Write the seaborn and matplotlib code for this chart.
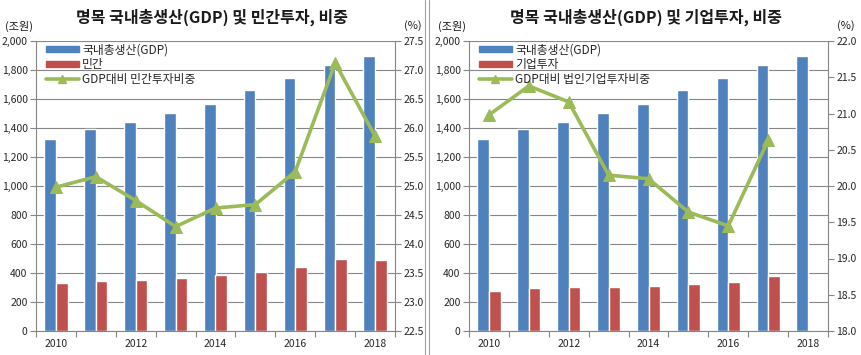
import numpy as np
import pandas as pd
import matplotlib
matplotlib.use("Agg")
import matplotlib.pyplot as plt
import seaborn as sns
from matplotlib.lines import Line2D
from matplotlib.patches import Patch

sns.set_theme(style="white")
plt.rcParams['font.family'] = ['Noto Sans CJK KR', 'DejaVu Sans']

years = ["2010", "2011", "2012", "2013", "2014", "2015", "2016", "2017", "2018"]
gdp = [1324, 1393, 1441, 1503, 1566, 1662, 1745, 1834, 1897]
private_inv = [331, 345, 352, 366, 386, 407, 441, 497, 490]
private_ratio = [24.98, 25.16, 24.75, 24.30, 24.62, 24.68, 25.25, 27.12, 25.86]
corp_inv = [276, 297, 303, 303, 310, 324, 338, 379, np.nan]
corp_ratio = [20.98, 21.38, 21.16, 20.15, 20.10, 19.64, 19.45, 20.63, np.nan]

titles = ["명목 국내총생산(GDP) 및 민간투자, 비중", "명목 국내총생산(GDP) 및 기업투자, 비중"]
bar_names = [("국내총생산(GDP)", "민간"), ("국내총생산(GDP)", "기업투자")]
line_names = ["GDP대비 민간투자비중", "GDP대비 법인기업투자비중"]
right_lims = [(22.5, 27.5), (18.0, 22.0)]
right_ticks = [np.arange(22.5, 27.51, 0.5), np.arange(18.0, 22.01, 0.5)]
left_ticks = np.arange(0, 2001, 200)

BLUE = "#4F81BD"
RED = "#C0504D"
GREEN = "#9BBB59"
GRID = "#868686"

W, H = 861, 355
fig = plt.figure(figsize=(W / 100, H / 100), dpi=100)

panels = [
    dict(left=36, right=395, inv=private_inv, ratio=private_ratio),
    dict(left=469, right=828, inv=corp_inv, ratio=corp_ratio),
]
top_px, bot_px = 41, 331

for i, p in enumerate(panels):
    ax = fig.add_axes([p["left"] / W, (H - bot_px) / H,
                       (p["right"] - p["left"]) / W, (bot_px - top_px) / H])
    df = pd.DataFrame({
        "year": years * 2,
        "series": [bar_names[i][0]] * len(years) + [bar_names[i][1]] * len(years),
        "value": list(gdp) + list(p["inv"]),
    })
    sns.barplot(data=df, x="year", y="value", hue="series", order=years,
                palette=[BLUE, RED], width=0.58, gap=0, dodge=True,
                saturation=1, ax=ax, legend=False, errorbar=None)
    ax.set_ylim(0, 2000)
    ax.set_xlim(-0.5, len(years) - 0.5)
    ax.set_yticks(left_ticks)
    ax.set_yticklabels([f"{v:,}" for v in left_ticks], fontsize=7.5)
    ax.yaxis.grid(True, color=GRID, linewidth=0.8)
    ax.set_axisbelow(True)
    ax.set_xlabel("")
    ax.set_ylabel("")
    # category boundaries as tick marks, labels every other year
    ax.set_xticks(np.arange(-0.5, len(years), 1.0))
    ax.set_xticklabels([])
    ax.set_xticks(np.arange(0, len(years), 2), minor=True)
    ax.set_xticklabels(years[::2], minor=True, fontsize=7.5)
    ax.tick_params(axis="x", which="major", direction="out", length=4,
                   color=GRID, width=0.8, bottom=True)
    ax.tick_params(axis="x", which="minor", length=0, pad=6, bottom=True)
    ax.tick_params(axis="y", direction="out", length=4, color=GRID,
                   width=0.8, left=True, pad=2)
    for s in ["top", "right"]:
        ax.spines[s].set_visible(False)
    for s in ["left", "bottom"]:
        ax.spines[s].set_color(GRID)
        ax.spines[s].set_linewidth(0.8)

    ax2 = ax.twinx()
    sns.lineplot(x=np.arange(len(years)), y=p["ratio"], ax=ax2, color=GREEN,
                 linewidth=2.6, marker="^", markersize=8, markeredgecolor=GREEN,
                 markerfacecolor=GREEN)
    ax2.set_xlim(-0.5, len(years) - 0.5)
    ax2.set_ylim(*right_lims[i])
    ax2.set_yticks(right_ticks[i])
    ax2.set_yticklabels([f"{v:.1f}" for v in right_ticks[i]], fontsize=7.5)
    ax2.tick_params(axis="y", direction="out", length=4, color=GRID,
                    width=0.8, right=True, pad=2)
    ax2.grid(False)
    ax2.set_ylabel("")
    for s in ["top", "left", "bottom"]:
        ax2.spines[s].set_visible(False)
    ax2.spines["right"].set_color(GRID)
    ax2.spines["right"].set_linewidth(0.8)

    handles = [
        Patch(facecolor=BLUE, edgecolor=BLUE),
        Patch(facecolor=RED, edgecolor=RED),
        Line2D([0], [0], color=GREEN, linewidth=2.6, marker="^", markersize=6),
    ]
    labels = [bar_names[i][0], bar_names[i][1], line_names[i]]
    ax2.legend(handles, labels, loc="upper left", bbox_to_anchor=(0.02, 1.0),
               frameon=False, fontsize=8.5, handlelength=2.8, handleheight=0.45,
               labelspacing=0.15, handletextpad=0.3, borderaxespad=0.0,
               borderpad=0.2)

    cx = (p["left"] + p["right"]) / 2
    fig.text((cx - 3) / W, 1 - 17 / H, titles[i], ha="center", va="center",
             fontsize=11.5, fontweight="bold", color="#1a1a1a")
    fig.text((p["left"] - 3) / W, 1 - 26 / H, "(조원)", ha="right", va="center",
             fontsize=8, color="#1a1a1a")
    fig.text((p["right"] + 18) / W, 1 - 26 / H, "(%)", ha="center", va="center",
             fontsize=8, color="#1a1a1a")

for xp in (425, 429):
    fig.add_artist(Line2D([xp / W, xp / W], [0, 1], color="#A0A0A0", linewidth=0.8))

fig.savefig("out.png", dpi=100)
